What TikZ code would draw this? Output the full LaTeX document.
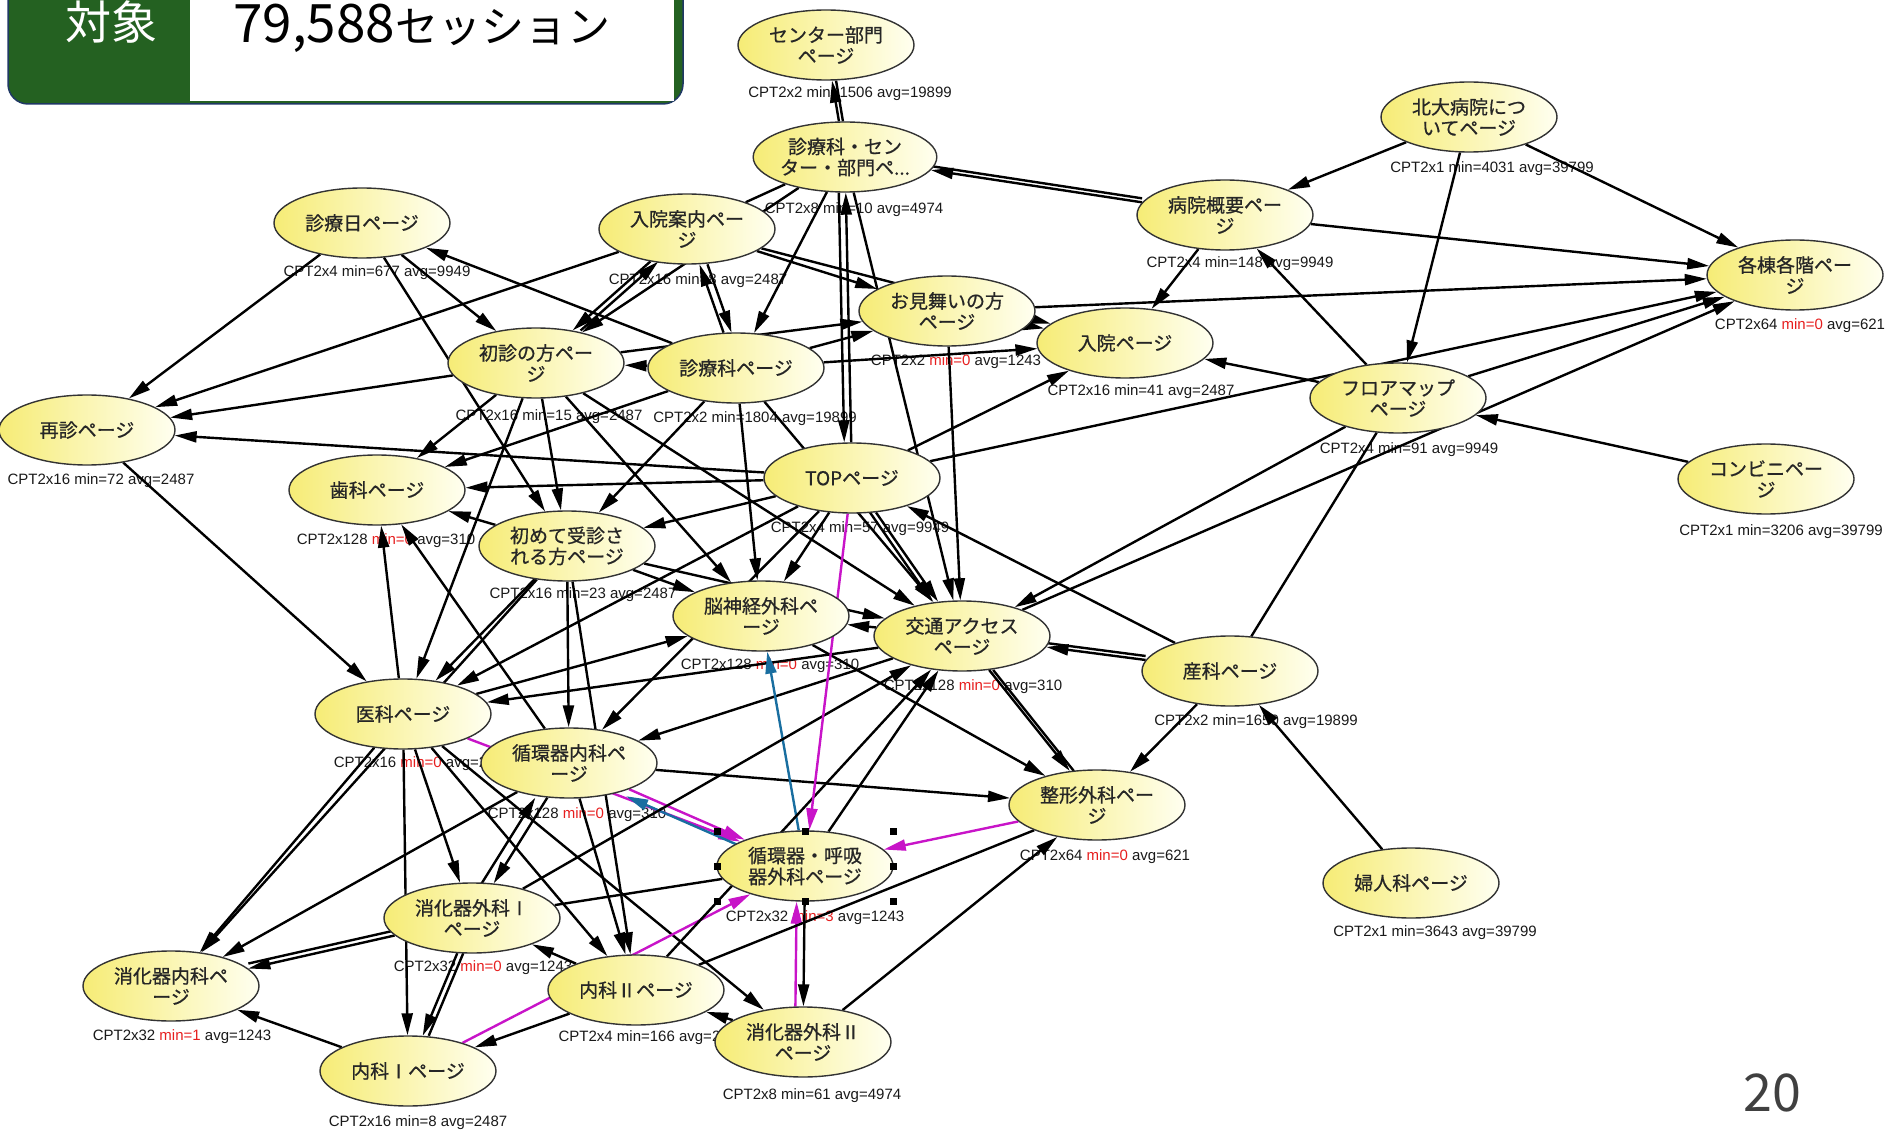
\documentclass[tikz,border=0pt]{standalone}
\usepackage{fontspec}
\setmainfont{Liberation Sans}
\newfontfamily\jp{Noto Sans CJK JP}
\newfontfamily\jpm[FakeBold=0.7]{Noto Sans CJK JP}
\usetikzlibrary{arrows.meta,shapes.geometric}
\pgfdeclarelayer{lab}
\pgfdeclarelayer{edg}
\pgfsetlayers{lab,edg,main}
\definecolor{ylwA}{RGB}{246,236,118}
\definecolor{ylwB}{RGB}{255,255,240}
\definecolor{hdrgreen}{RGB}{36,97,33}
\definecolor{hdrblue}{RGB}{31,56,100}
\definecolor{mag}{RGB}{200,20,200}
\definecolor{blu}{RGB}{25,110,160}
\definecolor{minred}{RGB}{230,30,30}
\newcommand\minr[1]{\textcolor{minred}{#1}}
\tikzset{
  pg/.style={ellipse, draw=black!80, line width=1.4pt, left color=ylwA, right color=ylwB,
    minimum width=176pt, minimum height=70pt, inner sep=0pt, align=center,
    font=\jpm\fontsize{19}{21}\selectfont, text=black!85},
  lb/.style={font=\fontsize{15}{15}\selectfont, text=black!90, inner sep=0pt},
  ar/.style={line width=2.4pt, -{Triangle[length=22pt,width=11pt]}},
  ln/.style={line width=2.4pt},
  arm/.style={ar, color=mag},
  arb/.style={ar, color=blu},
  handle/.style={fill=black, minimum size=7pt, inner sep=0pt}
}
\begin{document}
\begin{tikzpicture}[x=1pt,y=-1pt]
\useasboundingbox (0,0) rectangle (1893,1131);
% header
\draw[fill=hdrgreen, draw=hdrblue, line width=1.5pt, rounded corners=20pt] (8,-40) rectangle (683,104);
\fill[white] (190,-40) rectangle (674,101);
\node[font=\jp\fontsize{46}{46}\selectfont, text=white] (taisho) at (111,22) {対象};
\node[anchor=base west, inner sep=0pt] (sess) at (233,43) {\jp\fontsize{53}{53}\selectfont 79,588\fontsize{43}{43}\selectfont セッション};
\node[font=\jp\fontsize{52}{52}\selectfont, text=black!75] (pnum) at (1772,1093) {20};

% nodes
\node[pg] (cen) at (826,45) {センター部門\\ページ};
\node[pg] (shin) at (845,157) {診療科・セン\\ター・部門ペ...};
\node[pg] (hokudai) at (1469,117) {北大病院につ\\いてページ};
\node[pg] (gaiyo) at (1225,215) {病院概要ペー\\ジ};
\node[pg] (kakuto) at (1795,275) {各棟各階ペー\\ジ};
\node[pg] (shinryobi) at (362,223) {診療日ページ};
\node[pg] (nyuan) at (687,229) {入院案内ペー\\ジ};
\node[pg] (omimai) at (947,311) {お見舞いの方\\ページ};
\node[pg] (nyuin) at (1125,343) {入院ページ};
\node[pg] (shoshin) at (536,363) {初診の方ペー\\ジ};
\node[pg] (shinka) at (736,368) {診療科ページ};
\node[pg] (saishin) at (87,430) {再診ページ};
\node[pg] (floor) at (1398,398) {フロアマップ\\ページ};
\node[pg] (top) at (852,478) {TOPページ};
\node[pg] (konbini) at (1766,479) {コンビニペー\\ジ};
\node[pg] (shika) at (377,490) {歯科ページ};
\node[pg] (hajime) at (567,546) {初めて受診さ\\れる方ページ};
\node[pg] (noshin) at (761,616) {脳神経外科ペ\\ージ};
\node[pg] (kotsu) at (962,636) {交通アクセス\\ページ};
\node[pg] (sanka) at (1230,671) {産科ページ};
\node[pg] (ika) at (403,714) {医科ページ};
\node[pg] (junnai) at (569,763) {循環器内科ペ\\ージ};
\node[pg] (seikei) at (1097,805) {整形外科ペー\\ジ};
\node[pg] (junko) at (805,866) {循環器・呼吸\\器外科ページ};
\node[pg] (fujin) at (1411,883) {婦人科ページ};
\node[pg] (shoge1) at (472,918) {消化器外科Ⅰ\\ページ};
\node[pg] (shonai) at (171,986) {消化器内科ペ\\ージ};
\node[pg] (naika2) at (636,990) {内科Ⅱページ};
\node[pg] (shoge2) at (803,1042) {消化器外科Ⅱ\\ページ};
\node[pg] (naika1) at (408,1071) {内科Ⅰページ};

% selection handles
\node[handle] (h1) at (717,831) {};
\node[handle] (h2) at (805,831) {};
\node[handle] (h3) at (893,831) {};
\node[handle] (h4) at (717,866) {};
\node[handle] (h5) at (893,866) {};
\node[handle] (h6) at (717,901) {};
\node[handle] (h7) at (805,901) {};
\node[handle] (h8) at (893,901) {};

% labels
\begin{pgfonlayer}{lab}
\node[lb] (Lcen) at (850,94) {CPT2x2 min=1506 avg=19899};
\node[lb] (Lshin) at (854,210) {CPT2x8 min=10 avg=4974};
\node[lb] (Lhokudai) at (1492,169) {CPT2x1 min=4031 avg=39799};
\node[lb] (Lgaiyo) at (1240,264) {CPT2x4 min=148 avg=9949};
\node[lb] (Lkakuto) at (1800,326) {CPT2x64 \minr{min=0} avg=621};
\node[lb] (Lshinryobi) at (377,273) {CPT2x4 min=677 avg=9949};
\node[lb] (Lnyuan) at (698,281) {CPT2x16 min=8 avg=2487};
\node[lb] (Lomimai) at (956,362) {CPT2x2 \minr{min=0} avg=1243};
\node[lb] (Lnyuin) at (1141,392) {CPT2x16 min=41 avg=2487};
\node[lb] (Lshoshin) at (549,417) {CPT2x16 min=15 avg=2487};
\node[lb] (Lshinka) at (755,419) {CPT2x2 min=1804 avg=19899};
\node[lb] (Lsaishin) at (101,481) {CPT2x16 min=72 avg=2487};
\node[lb] (Lfloor) at (1409,450) {CPT2x4 min=91 avg=9949};
\node[lb] (Ltop) at (860,529) {CPT2x4 min=57 avg=9949};
\node[lb] (Lkonbini) at (1781,532) {CPT2x1 min=3206 avg=39799};
\node[lb] (Lshika) at (386,541) {CPT2x128 \minr{min=0} avg=310};
\node[lb] (Lhajime) at (583,595) {CPT2x16 min=23 avg=2487};
\node[lb] (Lnoshin) at (770,666) {CPT2x128 \minr{min=0} avg=310};
\node[lb] (Lkotsu) at (973,687) {CPT2x128 \minr{min=0} avg=310};
\node[lb] (Lsanka) at (1256,722) {CPT2x2 min=1650 avg=19899};
\node[lb] (Lika) at (423,764) {CPT2x16 \minr{min=0} avg=2487};
\node[lb] (Ljunnai) at (577,815) {CPT2x128 \minr{min=0} avg=310};
\node[lb] (Lseikei) at (1105,857) {CPT2x64 \minr{min=0} avg=621};
\node[lb] (Ljunko) at (815,918) {CPT2x32 \minr{min=3} avg=1243};
\node[lb] (Lfujin) at (1435,933) {CPT2x1 min=3643 avg=39799};
\node[lb] (Lshoge1) at (483,968) {CPT2x32 \minr{min=0} avg=1243};
\node[lb] (Lshonai) at (182,1037) {CPT2x32 \minr{min=1} avg=1243};
\node[lb] (Lnaika2) at (652,1038) {CPT2x4 min=166 avg=2487};
\node[lb] (Lshoge2) at (812,1096) {CPT2x8 min=61 avg=4974};
\node[lb] (Lnaika1) at (418,1123) {CPT2x16 min=8 avg=2487};
\end{pgfonlayer}

% edges
\begin{pgfonlayer}{edg}
\draw[ar] (shin) -- (cen); \draw[ln, transform canvas={xshift=4pt}] (shin) -- (cen);
\draw[ar] (gaiyo) -- (shin); \draw[ln, transform canvas={yshift=4pt}] (gaiyo) -- (shin);
\draw[ar] (hokudai) -- (gaiyo);
\draw[ar] (hokudai) -- (kakuto);
\draw[ar] (hokudai) -- (floor);
\draw[ar] (gaiyo) -- (kakuto);
\draw[ar] (gaiyo) -- (nyuin);
\draw[ar] (floor) -- (gaiyo);
\draw[ar] (omimai) -- (kakuto);
\draw[ar] (floor) -- (kakuto);
\draw[ar] (kotsu) -- (kakuto);
\draw[ar] (top) -- (kakuto);
\draw[ar] (konbini) -- (floor);
\draw[ar] (floor) -- (nyuin);
\draw[ar] (floor) -- (kotsu);
\draw[ln] (sanka) -- (floor);
\draw[ar] (fujin) -- (sanka);
\draw[ar] (sanka) -- (kotsu); \draw[ln, transform canvas={yshift=4pt}] (sanka) -- (kotsu);
\draw[ar] (sanka) -- (seikei);
\draw[ar] (sanka) -- (top);
\draw[ar] (kotsu) -- (seikei); \draw[ln, transform canvas={xshift=4pt}] (kotsu) -- (seikei);
\draw[ar] (kotsu) -- (noshin);
\draw[ar] (kotsu) -- (junnai);
\draw[ar] (kotsu) -- (ika);
% TOP
\draw[ar] (top) -- (shin);
\draw[ar, transform canvas={xshift=-7pt}] (shin) -- (top);
\draw[ar] (top) -- (saishin);
\draw[ar] (top) -- (shika);
\draw[ar] (top) -- (hajime);
\draw[ar] (top) -- (noshin);
\draw[ar] (top) -- (kotsu); \draw[ar, transform canvas={xshift=-6pt}] (top) -- (kotsu);
\draw[ar] (top) -- (ika);
\draw[ar] (top) -- (junnai);
\draw[ar] (top) -- (nyuin);
% shinka
\draw[ar] (shinka) -- (shinryobi);
\draw[ar] (shinka) -- (nyuan);
\draw[ar, transform canvas={xshift=8pt}] (nyuan) -- (shinka);
\draw[ar] (shinka) -- (omimai);
\draw[ar] (shinka) -- (nyuin);
\draw[ar] (shinka) -- (shoshin);
\draw[ar] (shinka) -- (hajime);
\draw[ar] (shinka) -- (shika);
\draw[ar] (shinka) -- (kotsu);
\draw[ar] (shinka) -- (noshin);
% shin
\draw[ar] (shin) -- (shoshin);
\draw[ar] (shin) -- (shinka);
\draw[ar] (shin) -- (kotsu);
\draw[ln] (shin) -- (nyuan);
% shoshin
\draw[ar] (shinryobi) -- (shoshin);
\draw[ar] (nyuan) -- (shoshin);
\draw[ar, transform canvas={xshift=8pt}] (shoshin) -- (nyuan);
\draw[ar] (shoshin) -- (saishin);
\draw[ar] (shoshin) -- (hajime);
\draw[ar] (shoshin) -- (shika);
\draw[ar] (shoshin) -- (ika);
\draw[ar] (shoshin) -- (kotsu);
\draw[ar] (shoshin) -- (noshin);
\draw[ar] (shoshin) -- (omimai);
% nyuan, shinryobi, omimai
\draw[ar] (nyuan) -- (saishin);
\draw[ar] (nyuan) -- (omimai);
\draw[ar] (nyuan) -- (nyuin);
\draw[ar] (shinryobi) -- (saishin);
\draw[ar] (shinryobi) -- (hajime);
\draw[ar] (omimai) -- (kotsu);
\draw[ar] (omimai) -- (nyuin);
\draw[ar] (saishin) -- (ika);
% hajime
\draw[ar] (hajime) -- (shika);
\draw[ar] (hajime) -- (ika);
\draw[ar] (hajime) -- (junnai);
\draw[ar] (hajime) -- (noshin);
\draw[ar] (hajime) -- (kotsu);
\draw[ar] (hajime) -- (naika2);
\draw[ar] (hajime) -- (shonai);
% ika
\draw[ar] (ika) -- (shika);
\draw[ar] (ika) -- (noshin);
\draw[ar] (ika) -- (shoge1);
\draw[ar] (ika) -- (shonai);
\draw[ar] (ika) -- (naika1);
\draw[ar] (ika) -- (naika2);
\draw[ar] (ika) -- (shoge2);
\draw[arm] (ika) -- (junko);
% junnai
\draw[ar] (junnai) -- (shika);
\draw[ar] (junnai) -- (seikei);
\draw[arm] (junnai) -- (junko);
\draw[arb, transform canvas={shift={(-3pt,-7pt)}}] (junko) -- (junnai);
\draw[ar] (junnai) -- (shoge1);
\draw[ar] (junnai) -- (shonai);
\draw[ar] (junnai) -- (naika2);
\draw[ar, transform canvas={xshift=-12pt}] (shoge1) -- (junnai);
% junko
\draw[arb] (junko) -- (noshin);
\draw[arm] (seikei) -- (junko);
\draw[ar] (junko) -- (shoge2);
\draw[arm, transform canvas={xshift=-8pt}] (shoge2) -- (junko);
\draw[arm] (naika1) -- (junko);
\draw[ln] (junko) -- (shoge1);
\draw[ar] (junko) -- (kotsu);
% shoge1
\draw[ar] (shoge1) -- (shonai); \draw[ln, transform canvas={yshift=5pt}] (shoge1) -- (shonai);
\draw[ar] (shoge1) -- (naika1); \draw[ln, transform canvas={xshift=6pt}] (shoge1) -- (naika1);
\draw[ar] (naika2) -- (shoge1);
\draw[ar] (shoge1) -- (kotsu);
% naika2
\draw[ar] (naika2) -- (naika1);
\draw[ln] (naika2) -- (seikei);
\draw[ar] (shoge2) -- (naika2);
\draw[ar] (naika2) -- (kotsu);
\draw[ar] (shoge2) -- (seikei);
\draw[ar] (naika1) -- (shonai);
\draw[ar] (noshin) -- (seikei);
\draw[arm] (top) -- (junko);
\end{pgfonlayer}
\end{tikzpicture}
\end{document}
